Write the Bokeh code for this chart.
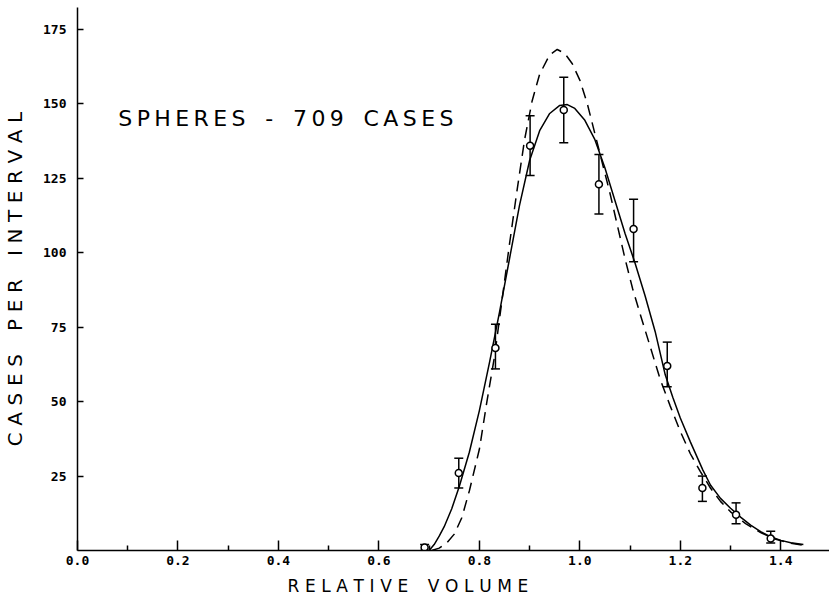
from bokeh.plotting import figure
from bokeh.models import Range1d, FixedTicker, Whisker, ColumnDataSource, Label, TeeHead, Title
from bokeh.embed import file_html
from bokeh.resources import INLINE

# ---- data ----
bin_centers = [0.691, 0.759, 0.832, 0.901, 0.968, 1.038, 1.107, 1.174, 1.244, 1.311, 1.380]
counts      = [1, 26, 68, 136, 148, 123, 108, 62, 21, 12, 4]
err_upper   = [2, 31, 76, 146, 159, 133, 118, 70, 25, 16, 6.5]
err_lower   = [0, 21, 61, 126, 137, 113, 97, 55, 16.5, 9, 2.5]

solid_x = [0.700, 0.710, 0.720, 0.730, 0.745, 0.760, 0.780, 0.800, 0.820, 0.840, 0.860,
           0.880, 0.900, 0.920, 0.940, 0.960, 0.975, 0.990, 1.010, 1.030, 1.050, 1.070,
           1.090, 1.110, 1.130, 1.150, 1.170, 1.185, 1.200, 1.220, 1.245, 1.260, 1.280,
           1.300, 1.320, 1.340, 1.360, 1.380, 1.400, 1.420, 1.445]
solid_y = [0.0, 2.0, 4.8, 8.0, 14.0, 21.5, 33.0, 47.0, 63.0, 80.0, 98.0,
           116.0, 131.0, 141.0, 146.8, 149.5, 149.8, 148.5, 144.5, 138.0, 128.5, 117.5,
           106.5, 96.5, 85.5, 73.5, 59.0, 51.5, 44.5, 36.5, 27.0, 22.0, 17.5,
           14.2, 11.2, 8.5, 6.3, 4.6, 3.4, 2.6, 2.0]

dashed_x = [0.705, 0.720, 0.735, 0.750, 0.765, 0.780, 0.800, 0.815, 0.830, 0.845, 0.860,
            0.875, 0.890, 0.905, 0.920, 0.940, 0.955, 0.970, 0.985, 1.000, 1.015, 1.030,
            1.045, 1.060, 1.075, 1.090, 1.105, 1.120, 1.140, 1.160, 1.180, 1.200, 1.220,
            1.240, 1.260, 1.280, 1.300, 1.330, 1.360, 1.390, 1.420, 1.445]
dashed_y = [0.0, 0.8, 2.5, 5.5, 11.0, 20.0, 34.0, 50.0, 65.0, 84.0, 103.0,
            121.0, 138.0, 151.0, 160.0, 166.5, 168.3, 167.0, 163.5, 158.0, 150.0, 140.0,
            130.0, 120.0, 109.0, 98.0, 88.0, 79.5, 68.5, 57.5, 48.5, 40.0, 32.5,
            26.5, 21.0, 16.5, 13.0, 9.0, 6.0, 3.8, 2.4, 1.8]

x_ticks = [0.0, 0.2, 0.4, 0.6, 0.8, 1.0, 1.2, 1.4]
x_tick_labels = ["0.0", "0.2", "0.4", "0.6", "0.8", "1.0", "1.2", "1.4"]
x_minor_ticks = [0.1, 0.3, 0.5, 0.7, 0.9, 1.1, 1.3]
y_ticks = [25, 50, 75, 100, 125, 150, 175]
y_tick_labels = ["25", "50", "75", "100", "125", "150", "175"]

title_text = "SPHERES - 709 CASES"
x_title = "RELATIVE VOLUME"
y_title = "CASES PER INTERVAL"


def spaced(s, gap="\u2009", word_gap="\u2002"):
    return gap.join(word_gap if c == " " else c for c in s)


p = figure(width=829, height=601,
           x_range=Range1d(0, 1.497), y_range=Range1d(0, 182.4),
           output_backend="svg", toolbar_location=None,
           min_border_left=74, min_border_right=0, min_border_top=7, min_border_bottom=51)
p.outline_line_color = None
p.xgrid.grid_line_color = None
p.ygrid.grid_line_color = None
p.background_fill_color = "white"
p.border_fill_color = "white"

# axes
p.xaxis.ticker = FixedTicker(ticks=x_ticks, minor_ticks=x_minor_ticks)
p.xaxis.major_label_overrides = dict(zip(x_ticks, x_tick_labels))
p.yaxis.ticker = FixedTicker(ticks=y_ticks, minor_ticks=[])
p.yaxis.major_label_overrides = dict(zip(y_ticks, y_tick_labels))

for ax in (p.xaxis[0], p.yaxis[0]):
    ax.axis_line_color = "black"
    ax.axis_line_width = 1.5
    ax.major_tick_line_color = "black"
    ax.major_tick_line_width = 1.5
    ax.minor_tick_line_color = "black"
    ax.minor_tick_line_width = 1.5
    ax.major_tick_out = 0
    ax.minor_tick_out = 0
    ax.major_label_text_font = "DejaVu Sans Mono"
    ax.major_label_text_font_style = "bold"
    ax.major_label_text_font_size = "13px"
    ax.major_label_text_color = "black"
    ax.axis_label_text_font = "DejaVu Sans"
    ax.axis_label_text_font_style = "normal"
    ax.axis_label_text_color = "black"

p.xaxis.major_tick_in = 10
p.xaxis.minor_tick_in = 5
p.xaxis.major_label_standoff = 5

p.yaxis.major_tick_in = 6
p.yaxis.minor_tick_in = 0
p.yaxis.major_label_standoff = 11
p.yaxis.axis_label = spaced(y_title, gap="\u2004", word_gap="\u2002")
p.yaxis.axis_label_text_font_size = "20px"
p.yaxis.axis_label_standoff = 13

# x-axis title, left of the frame centre as in the reference
p.add_layout(Title(text=spaced(x_title, gap="\u2004", word_gap="\u2002"),
                   align="left", offset=210, standoff=12,
                   text_font="DejaVu Sans", text_font_size="17px",
                   text_font_style="normal", text_color="black"), "below")

# curves
p.line(dashed_x, dashed_y, line_color="black", line_width=1.5, line_dash="11 7")
p.line(solid_x, solid_y, line_color="black", line_width=1.5)

# data with error bars
src = ColumnDataSource(dict(x=bin_centers, y=counts, upper=err_upper, lower=err_lower))
p.add_layout(Whisker(source=src, base="x", upper="upper", lower="lower",
                     line_color="black", line_width=1.5,
                     upper_head=TeeHead(size=9, line_width=1.5, line_color="black"),
                     lower_head=TeeHead(size=9, line_width=1.5, line_color="black")))
p.scatter("x", "y", source=src, marker="circle", size=7,
          fill_color="white", line_color="black", line_width=1.5)

# in-plot title
p.add_layout(Label(x=0.0813, y=145.0, text=spaced(title_text),
                   text_font="DejaVu Sans", text_font_size="22px",
                   text_color="black", text_baseline="alphabetic", text_align="left"))

open("out.html", "w").write(file_html(p, INLINE))
